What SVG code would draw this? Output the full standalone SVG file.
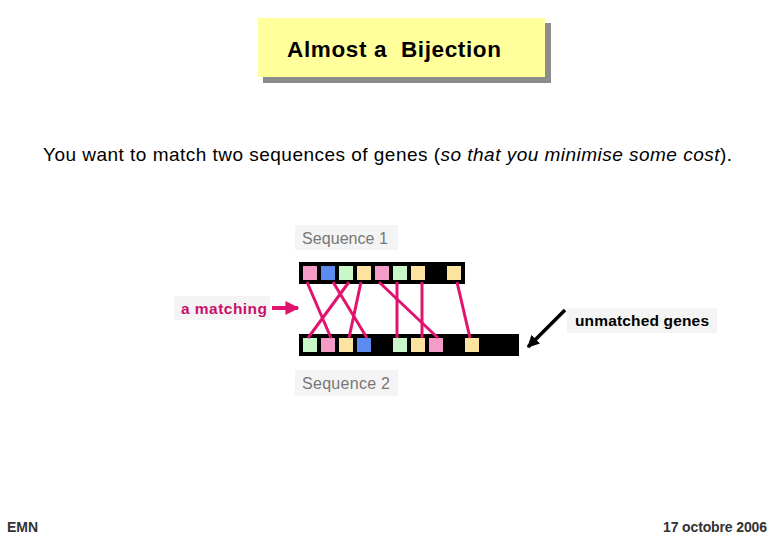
<svg xmlns="http://www.w3.org/2000/svg" width="780" height="540" viewBox="0 0 780 540">
<defs>
<style>
text{font-family:"Liberation Sans",Arial,sans-serif}
.lbl{fill:#f4f4f4}
.seq{font-size:16px;fill:#777}
.bar{fill:#000}
.p{fill:#f59bc8}.b{fill:#5b8bef}.g{fill:#c9f7c9}.t{fill:#fde3a0}
.m{stroke:#e0146e;stroke-width:3;fill:none}
</style>
<marker id="am" viewBox="0 0 10 10" refX="9" refY="5" markerWidth="3.5" markerHeight="3.5" orient="auto"><path d="M0,0L10,5L0,10z" fill="#e0146e"/></marker>
<marker id="ab" viewBox="0 0 10 10" refX="9" refY="5" markerWidth="3.5" markerHeight="3.5" orient="auto"><path d="M0,0L10,5L0,10z" fill="#000"/></marker>
</defs>
<rect width="780" height="540" fill="#fff"/>
<g id="title">
<rect x="263" y="23" width="288" height="60" fill="#8c8c8c"/>
<rect x="258" y="18" width="287" height="59" fill="#ffff9c"/>
<text x="287" y="57" font-size="22.5" font-weight="bold" fill="#000" textLength="214" lengthAdjust="spacing" xml:space="preserve">Almost a  Bijection</text>
</g>
<g id="subtitle">
<text x="43" y="161" font-size="19" fill="#000" textLength="689" lengthAdjust="spacing">You want to match two sequences of genes (<tspan font-style="italic">so that you minimise some cost</tspan>).</text>
</g>
<g id="seq1-label">
<rect class="lbl" x="295" y="225" width="103" height="25"/>
<text class="seq" x="302" y="244" textLength="86" lengthAdjust="spacing">Sequence 1</text>
</g>
<g id="seq1">
<rect class="bar" x="299" y="262" width="166" height="22"/>
<rect class="p" x="303" y="266" width="14" height="14"/>
<rect class="b" x="321" y="266" width="14" height="14"/>
<rect class="g" x="339" y="266" width="14" height="14"/>
<rect class="t" x="357" y="266" width="14" height="14"/>
<rect class="p" x="375" y="266" width="14" height="14"/>
<rect class="g" x="393" y="266" width="14" height="14"/>
<rect class="t" x="411" y="266" width="14" height="14"/>
<rect class="t" x="447" y="266" width="14" height="14"/>
</g>
<g id="seq2">
<rect class="bar" x="299" y="334" width="220" height="22"/>
<rect class="g" x="303" y="338" width="14" height="14"/>
<rect class="p" x="321" y="338" width="14" height="14"/>
<rect class="t" x="339" y="338" width="14" height="14"/>
<rect class="b" x="357" y="338" width="14" height="14"/>
<rect class="g" x="393" y="338" width="14" height="14"/>
<rect class="t" x="411" y="338" width="14" height="14"/>
<rect class="p" x="429" y="338" width="14" height="14"/>
<rect class="t" x="465" y="338" width="14" height="14"/>
</g>
<g id="seq2-label">
<rect class="lbl" x="295" y="370" width="103" height="26"/>
<text class="seq" x="302" y="389" textLength="88" lengthAdjust="spacing">Sequence 2</text>
</g>
<g id="matching-label">
<rect class="lbl" x="174" y="296" width="96" height="24"/>
<text x="181" y="314" font-size="15.5" font-weight="bold" fill="#c8106a" textLength="86" lengthAdjust="spacing">a matching</text>
</g>
<g id="unmatched-label">
<rect class="lbl" x="567" y="308" width="150" height="25"/>
<text x="575" y="326" font-size="15.5" font-weight="bold" fill="#000" textLength="134" lengthAdjust="spacing">unmatched genes</text>
</g>
<g id="connectors">
<line class="m" x1="307" y1="282" x2="331" y2="338"/>
<line class="m" x1="333" y1="282" x2="367" y2="338"/>
<line class="m" x1="349" y1="282" x2="308" y2="338"/>
<line class="m" x1="361" y1="282" x2="349" y2="338"/>
<line class="m" x1="379" y1="282" x2="438" y2="338"/>
<line class="m" x1="397" y1="282" x2="397" y2="338"/>
<line class="m" x1="422" y1="282" x2="422" y2="338"/>
<line class="m" x1="457" y1="282" x2="470" y2="338"/>
<line x1="272" y1="308" x2="298" y2="308" stroke="#e0146e" stroke-width="4" marker-end="url(#am)"/>
<line x1="565" y1="310" x2="528" y2="347" stroke="#000" stroke-width="3.5" marker-end="url(#ab)"/>
</g>
<g id="footer">
<text x="7" y="532" font-size="14" font-weight="bold" fill="#333" textLength="31" lengthAdjust="spacing">EMN</text>
<text x="663" y="532" font-size="14" font-weight="bold" fill="#333" textLength="104" lengthAdjust="spacing">17 octobre 2006</text>
</g>
</svg>
